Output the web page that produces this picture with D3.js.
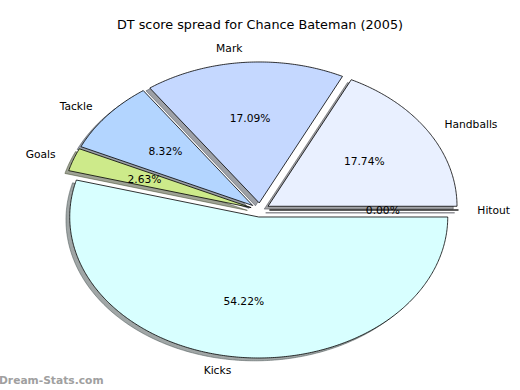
<!DOCTYPE html>
<html>
<head>
<meta charset="utf-8">
<script src="https://cdn.jsdelivr.net/npm/d3@7"></script>
<style>
  body { margin: 0; background: #fff; }
  text { font-family: "DejaVu Sans", sans-serif; }
</style>
</head>
<body>
<svg id="chart" width="520" height="390"></svg>
<script>
// slices, counter-clockwise from 3 o'clock (matplotlib style)
const categories = ['Hitout', 'Handballs', 'Mark', 'Tackle', 'Goals', 'Kicks'];
const shares = [0.00, 17.74, 17.09, 8.32, 2.63, 54.22];
const sliceColors = ['#e0e0ff', '#e9f0ff', '#c5d8ff', '#b3d5ff', '#cdea8a', '#d8ffff'];
const explode = [0.05, 0.05, 0.05, 0.05, 0.05, 0.05];
const chartTitle = 'DT score spread for Chance Bateman (2005)';
const watermark = 'Dream-Stats.com';

const width = 520, height = 390;
const cx = 260, cy = 210, rx = 189, ry = 141;

// data units -> pixels (pie radius = 1, axes not equal so it's an ellipse)
const x = d3.scaleLinear().domain([-1, 1]).range([cx - rx, cx + rx]);
const y = d3.scaleLinear().domain([-1, 1]).range([cy + ry, cy - ry]);

const svg = d3.select('#chart');

const data = categories.map((c, i) => ({ name: c, value: shares[i], color: sliceColors[i], explode: explode[i] }));

const pie = d3.pie()
  .sort(null)
  .value(d => d.value)
  .startAngle(0)
  .endAngle(2 * Math.PI);

const arcs = pie(data).map(a => {
  const mid = (a.startAngle + a.endAngle) / 2;
  a.mid = mid;
  a.ox = a.data.explode * Math.cos(mid);
  a.oy = a.data.explode * Math.sin(mid);
  return a;
});

const line = d3.line()
  .x(p => x(p[0]))
  .y(p => y(p[1]));

function wedgePoints(a, dx, dy) {
  const ox = a.ox + dx, oy = a.oy + dy;
  const n = Math.max(1, Math.ceil((a.endAngle - a.startAngle) / 0.01));
  const pts = [[ox, oy]];
  for (let k = 0; k <= n; k++) {
    const t = a.startAngle + (a.endAngle - a.startAngle) * k / n;
    pts.push([ox + Math.cos(t), oy + Math.sin(t)]);
  }
  return pts;
}

function shadowColor(c) {
  const rgb = d3.rgb(c);
  return d3.rgb(rgb.r * 0.3, rgb.g * 0.3, rgb.b * 0.3).toString();
}

// shadows first, behind all wedges
svg.append('g')
  .selectAll('path')
  .data(arcs)
  .join('path')
  .attr('d', a => line(wedgePoints(a, -0.02, -0.02)) + 'Z')
  .attr('fill', a => shadowColor(a.data.color))
  .attr('fill-opacity', 0.5)
  .attr('stroke', a => shadowColor(a.data.color))
  .attr('stroke-opacity', 0.5)
  .attr('stroke-width', 1);

svg.append('g')
  .selectAll('path')
  .data(arcs)
  .join('path')
  .attr('d', a => line(wedgePoints(a, 0, 0)) + 'Z')
  .attr('fill', a => a.data.color)
  .attr('stroke', '#000')
  .attr('stroke-width', 0.8)
  .attr('stroke-linejoin', 'miter');

// category labels at 1.1 radius
svg.append('g')
  .selectAll('text')
  .data(arcs)
  .join('text')
  .attr('x', a => x(a.ox + 1.1 * Math.cos(a.mid)))
  .attr('y', a => y(a.oy + 1.1 * Math.sin(a.mid)))
  .attr('dy', '0.35em')
  .attr('text-anchor', a => (a.ox + 1.1 * Math.cos(a.mid)) > 0 ? 'start' : 'end')
  .attr('font-size', '10.7px')
  .attr('fill', '#000')
  .text(a => a.data.name);

// percentages at 0.6 radius
svg.append('g')
  .selectAll('text')
  .data(arcs)
  .join('text')
  .attr('x', a => x(a.ox + 0.6 * Math.cos(a.mid)))
  .attr('y', a => y(a.oy + 0.6 * Math.sin(a.mid)))
  .attr('dy', '0.35em')
  .attr('text-anchor', 'middle')
  .attr('font-size', '10.7px')
  .attr('fill', '#000')
  .text(a => d3.format('.2f')(a.data.value) + '%');

svg.append('text')
  .attr('x', width / 2)
  .attr('y', 25)
  .attr('dy', '0.35em')
  .attr('text-anchor', 'middle')
  .attr('font-size', '12.8px')
  .attr('fill', '#000')
  .text(chartTitle);

svg.append('text')
  .attr('x', -1)
  .attr('y', 384)
  .attr('font-size', '10.7px')
  .attr('font-weight', 'bold')
  .attr('fill', '#a0a0a0')
  .text(watermark);
</script>
</body>
</html>
